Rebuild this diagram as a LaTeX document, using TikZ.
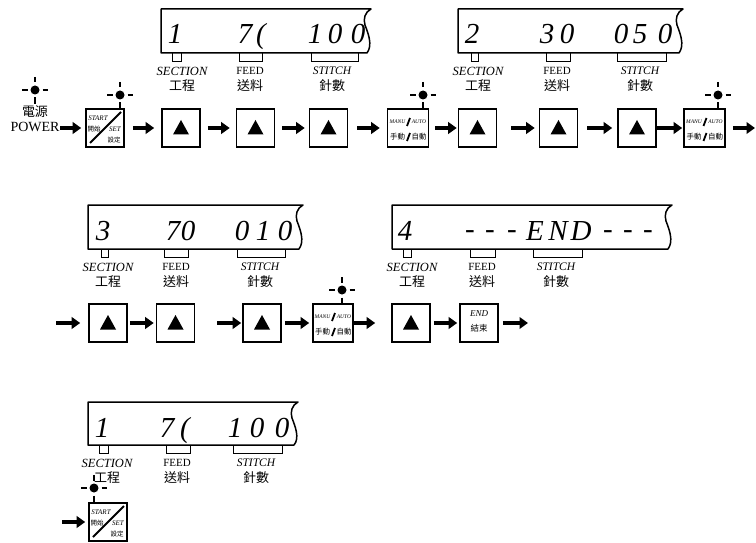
\documentclass[tikz,border=0pt]{standalone}
\usepackage{fontspec}
\setmainfont{Liberation Serif}
\newfontfamily\cjk{Noto Sans CJK TC}
\usetikzlibrary{arrows.meta}
\tikzset{
  disp/.style={line width=1.5pt, line join=round},
  brk/.style={line width=0.9pt},
  btn/.style={draw, line width=1.6pt, minimum width=38pt, minimum height=38pt, inner sep=0pt},
  wbtn/.style={btn, minimum width=41pt},
  arr/.style={line width=3.4pt, -{Triangle[length=8.5pt,width=11.5pt]}},
  dig/.style={font=\fontsize{29}{29}\selectfont\itshape, inner sep=0pt, anchor=base},
  sec/.style={font=\fontsize{12.5}{12}\selectfont\itshape, inner sep=0pt},
  fd/.style={font=\fontsize{11}{11}\selectfont, inner sep=0pt},
  stt/.style={font=\fontsize{11.5}{11}\selectfont\itshape, inner sep=0pt},
  cj/.style={font=\fontsize{13}{13}\selectfont\cjk, inner sep=0pt},
  tiny/.style={font=\fontsize{5.5}{5.5}\selectfont\itshape, inner sep=0pt},
  tinycj/.style={font=\fontsize{7.5}{7.5}\selectfont\cjk, inner sep=0pt},
  small/.style={font=\fontsize{7}{7}\selectfont\itshape, inner sep=0pt},
  smallcj/.style={font=\fontsize{6.5}{6.5}\selectfont\cjk, inner sep=0pt},
  mk/.pic={\fill (0,0) circle (4.5);
    \draw[line width=1.1pt] (-13,0)--(-7.5,0) (7.5,0)--(13,0) (0,-13)--(0,-7.5) (0,7.5)--(0,14);}
}
% display: L T R B
\newcommand\dsp[4]{\draw[disp] (#3,#2) -- (#1,#2) -- (#1,#4) -- ({#3-4},#4)
  .. controls ({#3+2},{#2+36}) and ({#3-3},{#2+24}) .. ({#3-6},{#2+16})
  .. controls ({#3-8},{#2+10}) and ({#3-6},{#2+3}) .. (#3,#2) -- cycle;}
\newcommand\brkt[3]{\draw[brk] (#1,#3) -- (#1,{#3+8}) -- (#2,{#3+8}) -- (#2,#3);}
% labels: prefix, sec x, feed x, stitch x, B
\newcommand\labs[5]{%
  \node[sec] (#1s) at (#2,{#5+18}) {SECTION};
  \node[cj] (#1sc) at (#2,{#5+33}) {工程};
  \node[fd] (#1f) at (#3,{#5+18}) {FEED};
  \node[cj] (#1fc) at (#3,{#5+33}) {送料};
  \node[stt] (#1t) at (#4,{#5+18}) {STITCH};
  \node[cj] (#1tc) at (#4,{#5+33}) {針數};}
\newcommand\tri[1]{\fill ([shift={(-8,6.5)}]#1.center) -- ([shift={(8,6.5)}]#1.center) -- ([shift={(0,-8)}]#1.center) -- cycle;}
\newcommand\manuc[1]{%
  \node[tiny] (#1a) at ([shift={(-10.5,-6)}]#1.center) {MANU};
  \node[tiny] (#1b) at ([shift={(11,-6)}]#1.center) {AUTO};
  \draw[line width=1.8pt] ([shift={(-1,-2)}]#1.center) -- ([shift={(2,-10)}]#1.center);
  \node[tinycj] (#1c) at ([shift={(-10.5,9)}]#1.center) {手動};
  \node[tinycj] (#1d) at ([shift={(11,9)}]#1.center) {自動};
  \draw[line width=1.8pt] ([shift={(-1,13)}]#1.center) -- ([shift={(2,5)}]#1.center);}
\newcommand\startc[1]{%
  \node[small] (#1a) at ([shift={(-7,-10)}]#1.center) {START};
  \node[smallcj] (#1b) at ([shift={(-11,1)}]#1.center) {開始};
  \node[small] (#1c) at ([shift={(10,1)}]#1.center) {SET};
  \node[smallcj] (#1d) at ([shift={(9,12)}]#1.center) {設定};
  \draw[line width=1.8pt] ([shift={(-15,15)}]#1.center) -- ([shift={(16,-16)}]#1.center);}

\begin{document}
\begin{tikzpicture}[x=1pt,y=-1pt]
\useasboundingbox (0,0) rectangle (756,543);

% ---------- displays ----------
\dsp{161}{9}{371}{53}
\brkt{172}{181}{53}\brkt{239}{262}{53}\brkt{311}{358}{53}
\labs{l1}{182}{250}{332}{53}
\node[dig] (d1a) at (175,44) {1};
\node[dig] (d1b) at (245,44) {7};
\node[dig] (d1c) at (261,44) {(};
\node[dig] (d1d) at (315,44) {1};
\node[dig] (d1e) at (335,44) {0};
\node[dig] (d1f) at (358,44) {0};

\dsp{458}{9}{683}{53}
\brkt{471}{478}{53}\brkt{546}{570}{53}\brkt{617}{666}{53}
\labs{l2}{478}{557}{640}{53}
\node[dig] (d2a) at (472,44) {2};
\node[dig] (d2b) at (547,44) {3};
\node[dig] (d2c) at (567,44) {0};
\node[dig] (d2d) at (621,44) {0};
\node[dig] (d2e) at (640,44) {5};
\node[dig] (d2f) at (665,44) {0};

\dsp{88}{205}{303}{249}
\brkt{101}{108}{249}\brkt{164}{188}{249}\brkt{237}{285}{249}
\labs{l3}{108}{176}{260}{249}
\node[dig] (d3a) at (103,240) {3};
\node[dig] (d3b) at (173,240) {7};
\node[dig] (d3c) at (188,240) {0};
\node[dig] (d3d) at (242,240) {0};
\node[dig] (d3e) at (263,240) {1};
\node[dig] (d3f) at (285,240) {0};

\dsp{392}{205}{672}{249}
\brkt{403}{411}{249}\brkt{470}{495}{249}\brkt{533}{582}{249}
\labs{l4}{412}{482}{556}{249}
\node[dig] (d4a) at (405,240) {4};
\node[dig] (d4b) at (470,238) {-};
\node[dig] (d4c) at (490,238) {-};
\node[dig] (d4d) at (512,238) {-};
\node[dig] (d4e) at (535,240) {E};
\node[dig] (d4f) at (558,240) {N};
\node[dig] (d4g) at (581,240) {D};
\node[dig] (d4h) at (608,238) {-};
\node[dig] (d4i) at (628,238) {-};
\node[dig] (d4j) at (648,238) {-};

\dsp{88}{402}{298}{445}
\brkt{99}{108}{445}\brkt{166}{190}{445}\brkt{233}{282}{445}
\labs{l5}{107}{177}{256}{445}
\node[dig] (d5a) at (102,437) {1};
\node[dig] (d5b) at (167,437) {7};
\node[dig] (d5c) at (185,437) {(};
\node[dig] (d5d) at (235,437) {1};
\node[dig] (d5e) at (257,437) {0};
\node[dig] (d5f) at (282,437) {0};

% ---------- row 1 ----------
\node[font=\fontsize{13}{13}\selectfont\cjk, inner sep=0pt] (pwc) at (35,111.5) {電源};
\node[font=\fontsize{14}{14}\selectfont, inner sep=0pt] (pw) at (35,127) {POWER};
\pic at (35,90) {mk};
\coordinate (pwe) at (60,128);

\node[btn] (st1) at (105,128) {};
\node[btn] (b1) at (181,128) {};
\node[btn] (b2) at (255.5,128) {};
\node[btn] (b3) at (328.5,128) {};
\node[wbtn] (m1) at (408,128) {};
\node[btn] (b4) at (477.5,128) {};
\node[btn] (b5) at (558.5,128) {};
\node[btn] (b6) at (637,128) {};
\node[wbtn] (m2) at (704.5,128) {};
\coordinate (e1) at (756,128);
\startc{st1}
\manuc{m1}\manuc{m2}
\foreach \b in {b1,b2,b3,b4,b5,b6} {\tri{\b}}
\pic at (120,95) {mk};
\pic at (423,95) {mk};
\pic at (718,95) {mk};

\draw[arr, shorten >=4pt] (pwe) -- (st1);
\draw[arr, shorten <=8pt, shorten >=7pt] (st1) -- (b1);
\draw[arr, shorten <=7pt, shorten >=6pt] (b1) -- (b2);
\draw[arr, shorten <=7pt, shorten >=4pt] (b2) -- (b3);
\draw[arr, shorten <=9pt, shorten >=7pt] (b3) -- (m1);
\draw[arr, shorten <=6pt, shorten >=1pt] (m1) -- (b4);
\draw[arr, shorten <=14pt, shorten >=4pt] (b4) -- (b5);
\draw[arr, shorten <=9pt, shorten >=5pt] (b5) -- (b6);
\draw[arr, shorten >=1pt] (b6) -- (m2);
\draw[arr, shorten <=7pt, shorten >=1pt] (m2) -- (e1);

% ---------- row 2 ----------
\coordinate (s2) at (56,323);
\node[btn] (r2a) at (108,323) {};
\node[btn] (r2b) at (175.5,323) {};
\coordinate (s3) at (217,323);
\node[btn] (r2c) at (262,323) {};
\node[btn, minimum width=40pt] (m3) at (333,323) {};
\node[btn] (r2d) at (411,323) {};
\node[btn] (en) at (479,323) {};
\coordinate (e2) at (528,323);
\foreach \b in {r2a,r2b,r2c,r2d} {\tri{\b}}
\manuc{m3}
\pic at (342,290) {mk};
\node[font=\fontsize{9}{9}\selectfont\itshape, inner sep=0pt] (ena) at ([shift={(0,-9)}]en.center) {END};
\node[font=\fontsize{8.5}{8.5}\selectfont\cjk, inner sep=0pt] (enb) at ([shift={(0,5)}]en.center) {結束};

\draw[arr, shorten >=8pt] (s2) -- (r2a);
\draw[arr, shorten <=2pt, shorten >=2pt] (r2a) -- (r2b);
\draw[arr, shorten >=1pt] (s3) -- (r2c);
\draw[arr, shorten <=3pt, shorten >=3pt] (r2c) -- (m3);
\draw[arr, shorten >=16pt] (m3) -- (r2d);
\draw[arr, shorten <=3pt, shorten >=2pt] (r2d) -- (en);
\draw[arr, shorten <=4pt] (en) -- (e2);

% ---------- row 3 ----------
\coordinate (s4) at (62,522);
\node[btn] (st2) at (108,522) {};
\startc{st2}
\pic at (94,488) {mk};
\draw[arr, shorten >=3pt] (s4) -- (st2);
\end{tikzpicture}
\end{document}
